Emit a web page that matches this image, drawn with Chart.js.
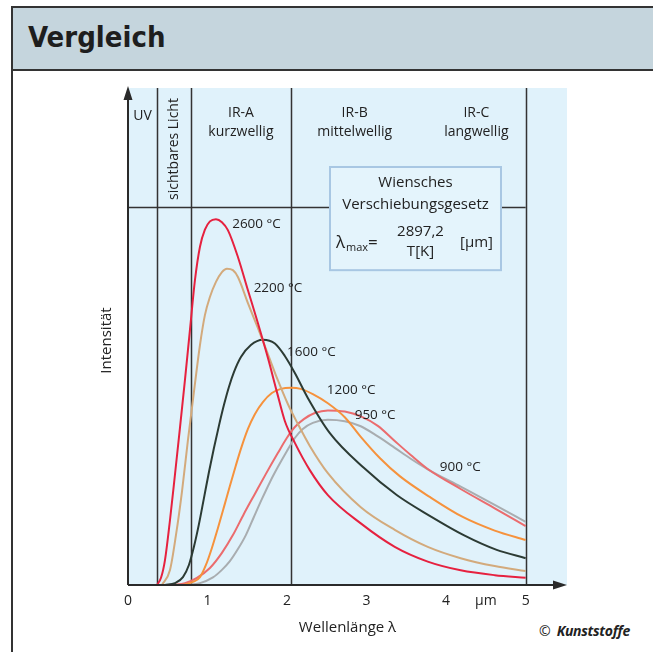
<!DOCTYPE html>
<html>
<head>
<meta charset="utf-8">
<script src="https://cdn.jsdelivr.net/npm/chart.js@4/dist/chart.umd.min.js"></script>
<style>
  html, body { margin: 0; padding: 0; background: #fff; width: 653px; height: 652px; overflow: hidden; }
  #frame { position: absolute; left: 11px; top: 6px; width: 700px; height: 700px; border-left: 2px solid #333; border-top: 2px solid #333; }
  #head { position: absolute; left: 0; top: 0; width: 100%; height: 61px; background: #c5d5dd; border-bottom: 2px solid #333; }
  #head span { position: absolute; left: 15px; top: 12px; font: bold 29px "DejaVu Sans Condensed", Lato, sans-serif; color: #1e1e1e; }
  #copy { position: absolute; left: 539px; top: 621px; font: 14px "Open Sans", sans-serif; color: #222; }
  #copy b { font-style: italic; margin-left: 6px; letter-spacing: -0.3px; }
  canvas { position: absolute; left: 0; top: 0; }
</style>
</head>
<body>
<div id="frame"><div id="head"><span>Vergleich</span></div></div>
<div id="copy">©<b>Kunststoffe</b></div>
<canvas id="chart" width="653" height="652"></canvas>
<script>
// wavelength in µm, intensity in arbitrary units (100 = horizontal guide line)
const lambda2600 = [0.364, 0.415, 0.465, 0.528, 0.590, 0.653, 0.716, 0.779, 0.842, 0.905, 0.967, 1.030, 1.106, 1.181, 1.256, 1.382, 1.508, 1.633, 1.759, 1.872, 1.972, 2.098, 2.286, 2.513, 2.927, 3.354, 3.769, 4.183, 4.611, 5.0]
const int2600 = [0, 1.9, 6.6, 17.2, 29.1, 41.5, 54.2, 67.5, 80.7, 89.5, 94.0, 96.2, 96.8, 96.0, 93.9, 86.8, 78.0, 69.3, 60.1, 51.1, 43.4, 37.6, 30.4, 23.8, 16.3, 10.1, 6.2, 3.9, 2.6, 1.9]

const lambda2200 = [0.427, 0.528, 0.603, 0.678, 0.754, 0.829, 0.905, 0.967, 1.030, 1.106, 1.181, 1.244, 1.319, 1.382, 1.508, 1.633, 1.759, 1.884, 2.010, 2.136, 2.286, 2.513, 2.927, 3.354, 3.769, 4.183, 4.611, 5.0]
const int2200 = [0, 4.0, 13.2, 24.6, 38.4, 51.1, 63.5, 71.4, 76.2, 80.2, 82.8, 83.7, 83.3, 81.5, 74.6, 68.0, 61.1, 54.2, 47.9, 42.6, 36.8, 29.6, 20.6, 14.6, 10.1, 7.1, 5.0, 3.7]

const lambda1600 = [0.465, 0.590, 0.691, 0.766, 0.829, 0.892, 0.955, 1.018, 1.080, 1.143, 1.206, 1.269, 1.332, 1.420, 1.545, 1.696, 1.847, 1.972, 2.098, 2.261, 2.538, 2.965, 3.379, 3.794, 4.221, 4.636, 5.0]
const int1600 = [0, 0.5, 2.1, 5.3, 10.1, 16.1, 23.0, 29.9, 36.2, 42.1, 47.6, 52.4, 56.3, 60.3, 63.5, 64.9, 63.9, 60.6, 56.1, 49.5, 40.2, 31.0, 23.8, 18.3, 13.2, 9.3, 7.1]

const lambda1200 = [0.691, 0.817, 0.905, 0.980, 1.055, 1.131, 1.206, 1.281, 1.357, 1.432, 1.508, 1.595, 1.696, 1.809, 1.922, 2.048, 2.173, 2.324, 2.513, 2.726, 2.927, 3.166, 3.417, 3.794, 4.209, 4.611, 5.0]
const int1200 = [0, 0.8, 2.1, 5.3, 9.8, 15.1, 20.6, 26.2, 31.7, 36.8, 41.3, 45.2, 48.4, 50.8, 51.9, 52.2, 51.9, 50.5, 48.1, 44.4, 39.2, 33.6, 28.8, 23.3, 18.0, 14.4, 11.9]

const lambda950 = [0.565, 0.716, 0.867, 1.030, 1.181, 1.319, 1.457, 1.595, 1.734, 1.884, 1.997, 2.098, 2.211, 2.349, 2.513, 2.726, 2.927, 3.141, 3.354, 3.555, 3.769, 4.183, 4.611, 5.0]
const int950 = [0, 0.5, 1.9, 4.5, 8.5, 13.2, 18.8, 24.1, 29.4, 34.9, 38.9, 41.8, 43.9, 45.5, 46.2, 45.9, 44.6, 42.1, 38.1, 34.4, 30.7, 25.4, 20.3, 15.6]

const lambda900 = [0.729, 0.905, 1.068, 1.181, 1.281, 1.382, 1.482, 1.583, 1.683, 1.784, 1.884, 1.997, 2.098, 2.198, 2.324, 2.513, 2.726, 2.927, 3.141, 3.354, 3.555, 3.769, 4.183, 4.611, 5.0]
const int900 = [0, 0.5, 2.0, 4.0, 6.3, 9.5, 13.2, 18.0, 22.7, 27.2, 31.2, 35.4, 38.9, 41.3, 42.9, 43.7, 43.3, 42.0, 39.3, 36.3, 33.4, 30.6, 26.0, 21.2, 16.7]

const seriesNames = ["2600 °C", "2200 °C", "1600 °C", "1200 °C", "950 °C", "900 °C"]
const seriesColors = ["#e6213f", "#d3aa7c", "#2c3b34", "#f6923c", "#eb6c6e", "#a9adb0"]
const seriesLambda = [lambda2600, lambda2200, lambda1600, lambda1200, lambda950, lambda900]
const seriesIntensity = [int2600, int2200, int1600, int1200, int950, int900]

// where each curve label sits (µm, intensity)
const labelLambda = [1.31, 1.58, 2.0, 2.5, 2.85, 3.92]
const labelIntensity = [95.5, 78.6, 61.6, 51.6, 45.0, 31.2]

const tickValues = [0, 1, 2, 3, 4, 4.5, 5]
const zoneBounds = [0.365, 0.79, 2.05, 5.0]

const font = '"Open Sans", sans-serif'
const ink = "#222"

const decor = {
  id: "decor",
  beforeDatasetsDraw(chart) {
    const { ctx, chartArea: a, scales: { x, y } } = chart
    ctx.save()
    ctx.fillStyle = "#e0f2fb"
    ctx.fillRect(a.left, a.top, a.right - a.left, a.bottom - a.top)

    ctx.strokeStyle = "#333"
    ctx.lineWidth = 1.5
    zoneBounds.forEach((b) => {
      const px = Math.round(x.getPixelForValue(b)) + 0.5
      ctx.beginPath()
      ctx.moveTo(px, a.top)
      ctx.lineTo(px, a.bottom)
      ctx.stroke()
    })

    // guide line at 100, broken by the formula box
    const gy = Math.round(y.getPixelForValue(100)) + 0.5
    const bx0 = x.getPixelForValue(2.54), bx1 = x.getPixelForValue(4.69)
    ctx.beginPath()
    ctx.moveTo(a.left, gy); ctx.lineTo(bx0, gy)
    ctx.moveTo(bx1, gy); ctx.lineTo(x.getPixelForValue(5), gy)
    ctx.stroke()

    // formula box
    const by0 = y.getPixelForValue(110.6), by1 = y.getPixelForValue(83.3)
    ctx.fillStyle = "#e4f4fc"
    ctx.fillRect(bx0, by0, bx1 - bx0, by1 - by0)
    ctx.strokeStyle = "#a8c7e3"
    ctx.lineWidth = 2
    ctx.strokeRect(bx0, by0, bx1 - bx0, by1 - by0)

    ctx.fillStyle = ink
    ctx.textAlign = "center"
    ctx.textBaseline = "middle"
    const cx = (bx0 + bx1) / 2
    ctx.font = "15px " + font
    ctx.fillText("Wiensches", cx, by0 + 16)
    ctx.fillText("Verschiebungsgesetz", cx, by0 + 38)
    ctx.fillText("2897,2", cx + 5, by0 + 65)
    ctx.fillText("T[K]", cx + 5, by0 + 85)
    ctx.fillText("[µm]", cx + 61, by0 + 76)
    ctx.textAlign = "left"
    ctx.font = "17px " + font
    ctx.fillText("λ", bx0 + 6, by0 + 76)
    ctx.font = "11px " + font
    ctx.fillText("max", bx0 + 16, by0 + 81)
    ctx.font = "17px " + font
    ctx.fillText("=", bx0 + 38, by0 + 76)

    // zone names
    ctx.textAlign = "center"
    ctx.font = "14px " + font
    const mid = (p, q) => (x.getPixelForValue(p) + x.getPixelForValue(q)) / 2
    ctx.fillText("UV", mid(0, zoneBounds[0]), a.top + 28)
    ctx.fillText("IR-A", mid(zoneBounds[1], zoneBounds[2]), a.top + 25)
    ctx.fillText("kurzwellig", mid(zoneBounds[1], zoneBounds[2]), a.top + 44)
    ctx.fillText("IR-B", x.getPixelForValue(2.85), a.top + 25)
    ctx.fillText("mittelwellig", x.getPixelForValue(2.85), a.top + 44)
    ctx.fillText("IR-C", x.getPixelForValue(4.38), a.top + 25)
    ctx.fillText("langwellig", x.getPixelForValue(4.38), a.top + 44)
    ctx.save()
    ctx.translate(mid(zoneBounds[0], zoneBounds[1]), a.top + 61)
    ctx.rotate(-Math.PI / 2)
    ctx.fillText("sichtbares Licht", 0, 0)
    ctx.restore()
    ctx.restore()
  },
  afterDatasetsDraw(chart) {
    const { ctx, chartArea: a, scales: { x, y } } = chart
    ctx.save()
    ctx.strokeStyle = "#2a2a2a"
    ctx.fillStyle = "#2a2a2a"
    ctx.lineWidth = 2
    ctx.beginPath()
    ctx.moveTo(a.left, a.bottom); ctx.lineTo(a.left, a.top + 8)
    ctx.moveTo(a.left, a.bottom); ctx.lineTo(a.right - 8, a.bottom)
    ctx.stroke()
    ctx.beginPath()
    ctx.moveTo(a.left, a.top - 2); ctx.lineTo(a.left - 4.5, a.top + 12); ctx.lineTo(a.left + 4.5, a.top + 12); ctx.closePath()
    ctx.moveTo(a.right, a.bottom); ctx.lineTo(a.right - 14, a.bottom - 4.5); ctx.lineTo(a.right - 14, a.bottom + 4.5); ctx.closePath()
    ctx.fill()

    ctx.fillStyle = ink
    ctx.textBaseline = "middle"
    ctx.textAlign = "left"
    ctx.font = "13.5px " + font
    seriesNames.forEach((name, i) => {
      ctx.fillText(name, x.getPixelForValue(labelLambda[i]), y.getPixelForValue(labelIntensity[i]))
    })

    ctx.textAlign = "center"
    ctx.font = "15px " + font
    ctx.translate(a.left - 21, (a.top + a.bottom) / 2 + 4)
    ctx.rotate(-Math.PI / 2)
    ctx.fillText("Intensität", 0, 0)
    ctx.restore()
  }
}

new Chart(document.getElementById("chart"), {
  type: "line",
  data: {
    datasets: seriesNames.map((name, i) => ({
      label: name,
      data: seriesLambda[i].map((l, j) => ({ x: l, y: seriesIntensity[i][j] })),
      borderColor: seriesColors[i],
      borderWidth: 2,
      pointRadius: 0,
      fill: false,
      cubicInterpolationMode: "monotone"
    }))
  },
  options: {
    responsive: false,
    animation: false,
    layout: { padding: { left: 128, top: 88, right: 86, bottom: 0 } },
    plugins: { legend: { display: false }, tooltip: { enabled: false } },
    scales: {
      x: {
        type: "linear",
        min: 0,
        max: 5.52,
        grid: { display: false, drawTicks: false },
        border: { display: false },
        afterBuildTicks: (scale) => { scale.ticks = tickValues.map((v) => ({ value: v })) },
        afterFit: (scale) => { scale.height = 67 },
        ticks: {
          padding: 8,
          autoSkip: false,
          maxRotation: 0,
          color: ink,
          font: { family: font, size: 14 },
          callback: (v) => (v === 4.5 ? "µm" : v)
        },
        title: {
          display: true,
          text: "Wellenlänge λ",
          color: ink,
          font: { family: font, size: 15 },
          padding: { top: 0, bottom: 15 }
        }
      },
      y: { display: false, min: 0, max: 131.5 }
    }
  },
  plugins: [decor]
})
</script>
</body>
</html>
